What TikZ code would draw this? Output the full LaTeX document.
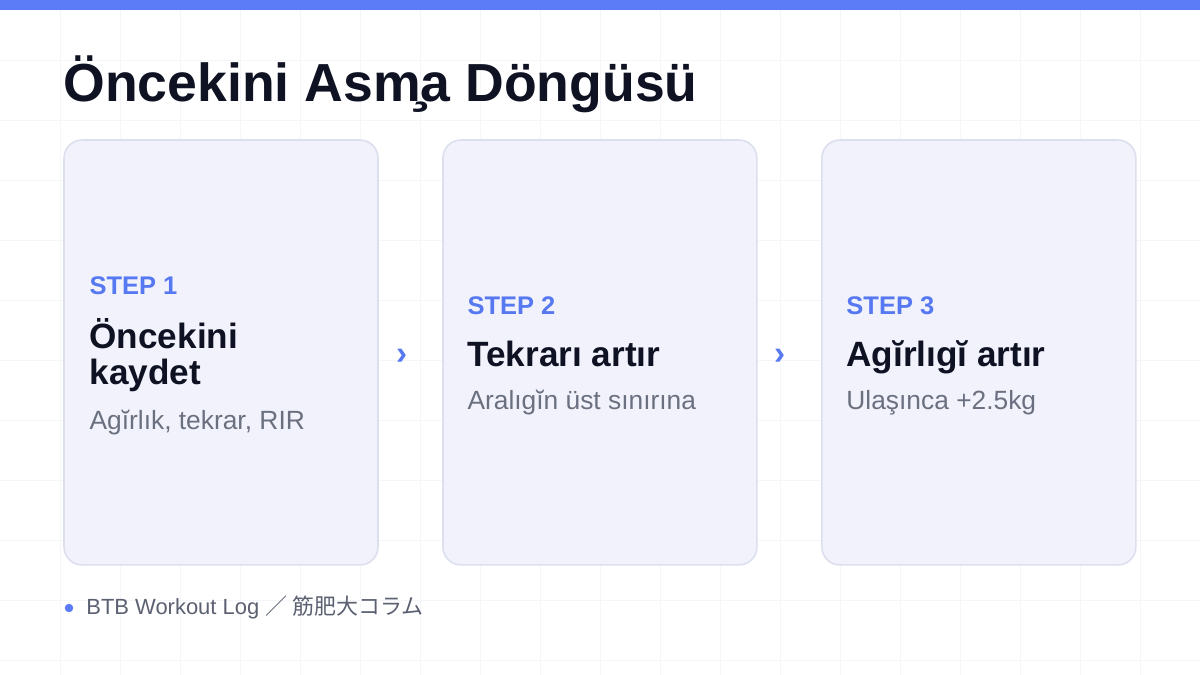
\documentclass[tikz,border=0pt]{standalone}
\usepackage{fontspec}
\setmainfont{Liberation Sans}
\newfontfamily\cjk{Noto Sans CJK JP}
\usepackage{tikz}
\usetikzlibrary{shapes.geometric, arrows}
\definecolor{barblue}{RGB}{91,124,246}
\definecolor{stepblue}{RGB}{86,120,240}
\definecolor{inkdark}{RGB}{15,18,35}
\definecolor{subgray}{RGB}{107,112,128}
\definecolor{footgray}{RGB}{92,97,114}
\definecolor{cardfill}{RGB}{241,242,251}
\definecolor{cardline}{RGB}{220,223,238}
\definecolor{gridgray}{RGB}{245,246,249}
\tikzstyle{card} = [rectangle, rounded corners=0.36cm, minimum width=6.28cm, minimum height=8.5cm, draw=cardline, line width=0.9pt, fill=cardfill]
\tikzstyle{titletext} = [anchor=base west, inner sep=0pt, text=inkdark, font=\bfseries\fontsize{30.5}{36}\selectfont]
\tikzstyle{steplabel} = [anchor=base west, inner sep=0pt, text=stepblue, font=\bfseries\fontsize{14.5}{17}\selectfont]
\tikzstyle{headtext} = [anchor=base west, inner sep=0pt, text=inkdark, align=left, font=\bfseries\fontsize{20}{21}\selectfont]
\tikzstyle{subtext} = [anchor=base west, inner sep=0pt, text=subgray, font=\fontsize{15}{17}\selectfont]
\tikzstyle{chev} = [inner sep=0pt, text=stepblue, font=\bfseries\fontsize{19}{22}\selectfont]
\tikzstyle{footdot} = [circle, inner sep=0pt, minimum size=0.17cm, fill=barblue]
\tikzstyle{foottext} = [anchor=base west, inner sep=0pt, text=footgray, font=\fontsize{12.5}{15}\selectfont]
\tikzstyle{gridline} = [draw=gridgray, line width=0.5pt]

\begin{document}
\begin{tikzpicture}[x=0.02cm, y=0.02cm, node distance=7.58cm]
		\useasboundingbox (0,0) rectangle (1200,675);
		\fill[white] (0,0) rectangle (1200,675);
		% background grid
		\foreach \gx in {60,120,...,1140}
			\draw [gridline] (\gx,0) -- (\gx,675);
		\foreach \gy in {15,75,...,615}
			\draw [gridline] (0,\gy) -- (1200,\gy);
		\fill[barblue] (0,665) rectangle (1200,675);
		\node (title) [titletext] at (63,573) {Öncekini Asm̧a Döngüsü};
		% the three cards
		\node (card1) [card] at (221,322.5) {};
		\node (card2) [card, right of=card1] {};
		\node (card3) [card, right of=card2] {};
		\node (step1) [steplabel] at ([shift={(26,57.5)}]card1.west) {STEP 1};
		\node (head1) [headtext] at ([shift={(26,-32.5)}]card1.west) {Öncekini\\kaydet};
		\node (sub1) [subtext] at ([shift={(26,-77.5)}]card1.west) {Agĭrlık, tekrar, RIR};
		\node (step2) [steplabel] at ([shift={(25,37.5)}]card2.west) {STEP 2};
		\node (head2) [headtext] at ([shift={(25,-14.5)}]card2.west) {Tekrarı artır};
		\node (sub2) [subtext] at ([shift={(25,-57.5)}]card2.west) {Aralıgĭn üst sınırına};
		\node (step3) [steplabel] at ([shift={(25,37.5)}]card3.west) {STEP 3};
		\node (head3) [headtext] at ([shift={(25,-14.5)}]card3.west) {Agĭrlıgĭ artır};
		\node (sub3) [subtext] at ([shift={(25,-57.5)}]card3.west) {Ulaşınca +2.5kg};
		\node (chev1) [chev] at ([shift={(23,-4.5)}]card1.east) {›};
		\node (chev2) [chev] at ([shift={(22,-4.5)}]card2.east) {›};
		% footer
		\node (dot) [footdot] at (69,67) {};
		\node (foot) [foottext] at (86,60) {BTB Workout Log {\cjk ／ 筋肥大コラム}};
		\end{tikzpicture}
\end{document}
